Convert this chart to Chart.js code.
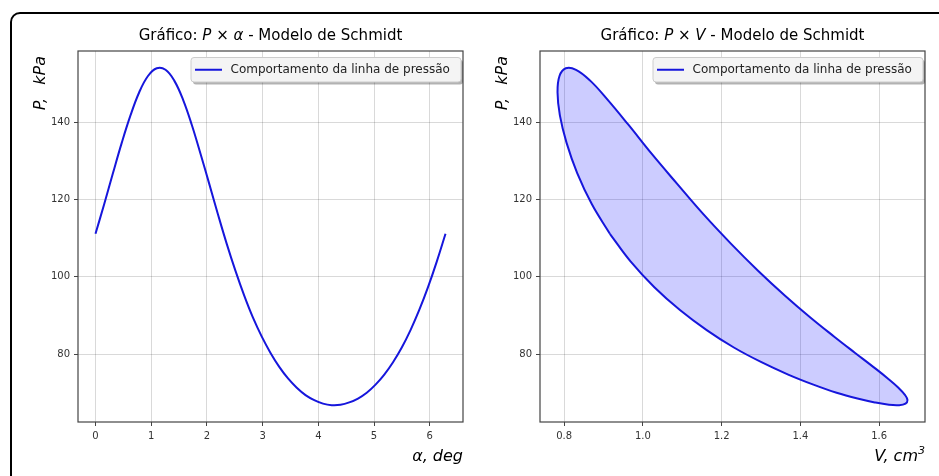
<!DOCTYPE html>
<html lang="pt">
<head>
<meta charset="UTF-8">
<title>Modelo de Schmidt</title>
<script src="https://cdn.jsdelivr.net/npm/chart.js"></script>
<style>
  body { margin: 0; width: 939px; height: 476px; overflow: hidden; position: relative; background: #fff; }
  #frame { position: absolute; left: 10px; top: 12px; width: 1000px; height: 600px; border: 2px solid #000; border-radius: 10px; pointer-events: none; z-index: 2; }
  .panel { position: absolute; top: 0; }
</style>
</head>
<body>
<div class="panel" style="left:0"><canvas id="chart-alpha" width="470" height="476"></canvas></div>
<div class="panel" style="left:470px"><canvas id="chart-volume" width="469" height="476"></canvas></div>
<div id="frame"></div>
<script>
// crank angle (rad), pressure (kPa) and total volume (cm3)
const alpha = [0, 0.157, 0.314, 0.471, 0.628, 0.785, 0.942, 1.100, 1.257, 1.414, 1.571,
  1.728, 1.885, 2.042, 2.199, 2.356, 2.513, 2.670, 2.827, 2.985, 3.142,
  3.299, 3.456, 3.613, 3.770, 3.927, 4.084, 4.241, 4.398, 4.555, 4.712,
  4.869, 5.027, 5.184, 5.341, 5.498, 5.655, 5.812, 5.969, 6.126, 6.283];
const pressure = [111.1, 118.8, 126.8, 134.6, 141.7, 147.7, 151.9, 153.9, 153.5, 150.7, 145.8,
  139.3, 131.8, 124.0, 116.1, 108.5, 101.5, 95.1, 89.4, 84.5, 80.3,
  76.7, 73.7, 71.3, 69.4, 68.1, 67.2, 66.8, 66.9, 67.5, 68.5,
  70.0, 72.1, 74.7, 77.9, 81.7, 86.2, 91.4, 97.3, 103.9, 111.1];
const volume = [0.916, 0.870, 0.833, 0.806, 0.789, 0.783, 0.788, 0.804, 0.830, 0.866, 0.910,
  0.963, 1.022, 1.087, 1.154, 1.224, 1.293, 1.361, 1.426, 1.486, 1.539,
  1.585, 1.622, 1.649, 1.666, 1.672, 1.667, 1.651, 1.625, 1.589, 1.545,
  1.492, 1.433, 1.369, 1.301, 1.231, 1.162, 1.094, 1.029, 0.969, 0.916];

const alphaTicks = [0, 1, 2, 3, 4, 5, 6];
const pressureTicks = [80, 100, 120, 140];
const volumeTicks = [0.8, 1.0, 1.2, 1.4, 1.6];
const legendLabel = 'Comportamento da linha de pressão';

const FONT = '"DejaVu Sans", sans-serif';
const LINE = '#1616dc';

function fontOf(p, size) {
  return (p.i ? 'italic ' : '') + (p.s || size) + 'px ' + FONT;
}

// draws text made of regular / italic / superscript pieces
function drawRich(ctx, parts, x, y, size, align) {
  let w = 0;
  parts.forEach(p => { ctx.font = fontOf(p, size); w += ctx.measureText(p.t).width; });
  let cx = align === 'center' ? x - w / 2 : align === 'right' ? x - w : x;
  ctx.textAlign = 'left';
  parts.forEach(p => {
    ctx.font = fontOf(p, size);
    ctx.fillText(p.t, cx, y - (p.up || 0));
    cx += ctx.measureText(p.t).width;
  });
}

const decor = {
  id: 'decor',
  afterDraw(chart, args, o) {
    const { ctx, chartArea: a } = chart;
    ctx.save();
    ctx.strokeStyle = '#444';
    ctx.lineWidth = 1.2;
    ctx.strokeRect(a.left, a.top, a.right - a.left, a.bottom - a.top);

    ctx.fillStyle = '#000';
    ctx.textBaseline = 'alphabetic';
    drawRich(ctx, o.title, (a.left + a.right) / 2, 40, 15, 'center');
    drawRich(ctx, o.xLabel, a.right, 461, 16, 'right');

    ctx.save();
    ctx.translate(a.left - o.yLabelGap, a.top + 5);
    ctx.rotate(-Math.PI / 2);
    drawRich(ctx, o.yLabel, 0, 0, 16, 'right');
    ctx.restore();

    // legend box
    const bx = a.right - 272, by = a.top + 6.5, bw = 270, bh = 24.5;
    ctx.fillStyle = 'rgba(0,0,0,0.3)';
    ctx.beginPath(); ctx.roundRect(bx + 2, by + 2.5, bw, bh, 3); ctx.fill();
    ctx.fillStyle = '#f4f4f4';
    ctx.strokeStyle = '#cccccc';
    ctx.lineWidth = 1;
    ctx.beginPath(); ctx.roundRect(bx, by, bw, bh, 3); ctx.fill(); ctx.stroke();
    const my = by + bh / 2;
    ctx.strokeStyle = LINE;
    ctx.lineWidth = 2;
    ctx.beginPath(); ctx.moveTo(bx + 4, my); ctx.lineTo(bx + 31, my); ctx.stroke();
    ctx.fillStyle = '#222';
    ctx.font = '12px ' + FONT;
    ctx.textAlign = 'left';
    ctx.textBaseline = 'middle';
    ctx.fillText(legendLabel, bx + 39.5, my);
    ctx.restore();
  }
};

function axis(min, max, ticks, size, fmt) {
  return {
    type: 'linear', min: min, max: max,
    afterBuildTicks: s => { s.ticks = ticks.map(v => ({ value: v })); },
    afterFit: s => { if (s.isHorizontal()) s.height = size; else s.width = size; },
    grid: { color: 'rgba(0,0,0,0.15)', lineWidth: 1, tickLength: 4, tickColor: '#444' },
    border: { display: false },
    ticks: { color: '#333', padding: 4, font: { family: FONT, size: 10 }, callback: fmt }
  };
}

function makeChart(id, points, extra, xScale, yScale, padRight, deco) {
  new Chart(document.getElementById(id), {
    type: 'scatter',
    data: {
      datasets: [Object.assign({
        label: legendLabel,
        data: points,
        showLine: true,
        borderColor: LINE,
        borderWidth: 2,
        pointRadius: 0,
        tension: 0.4
      }, extra)]
    },
    options: {
      responsive: false,
      animation: false,
      devicePixelRatio: 1,
      events: [],
      layout: { padding: { left: 0, right: padRight, top: 51, bottom: 0 } },
      scales: { x: xScale, y: yScale },
      plugins: { legend: { display: false }, tooltip: { enabled: false }, decor: deco }
    },
    plugins: [decor]
  });
}

makeChart('chart-alpha',
  alpha.map((a, i) => ({ x: a, y: pressure[i] })),
  { fill: false },
  axis(-0.314, 6.597, alphaTicks, 54, v => String(v)),
  axis(62.44, 158.36, pressureTicks, 78, v => String(v)),
  7,
  {
    title: [{ t: 'Gráfico: ' }, { t: 'P', i: true }, { t: ' × ' }, { t: 'α', i: true }, { t: ' - Modelo de Schmidt' }],
    xLabel: [{ t: 'α, deg', i: true }],
    yLabel: [{ t: 'P,\u2002 kPa', i: true }],
    yLabelGap: 33
  });

makeChart('chart-volume',
  volume.map((v, i) => ({ x: v, y: pressure[i] })),
  { fill: 'shape', backgroundColor: 'rgba(0,0,255,0.2)' },
  axis(0.7385, 1.7165, volumeTicks, 54, v => v.toFixed(1)),
  axis(62.44, 158.36, pressureTicks, 70, v => String(v)),
  14,
  {
    title: [{ t: 'Gráfico: ' }, { t: 'P', i: true }, { t: ' × ' }, { t: 'V', i: true }, { t: ' - Modelo de Schmidt' }],
    xLabel: [{ t: 'V, cm', i: true }, { t: '3', i: true, s: 11, up: 7 }],
    yLabel: [{ t: 'P,\u2002 kPa', i: true }],
    yLabelGap: 33
  });
</script>
</body>
</html>
